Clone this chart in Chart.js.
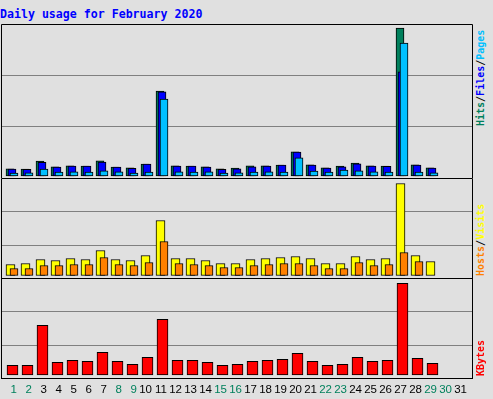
<!DOCTYPE html>
<html>
<head>
<meta charset="utf-8">
<title>Daily usage for February 2020</title>
<script src="https://cdn.jsdelivr.net/npm/chart.js@4.4.1/dist/chart.umd.min.js"></script>
<style>
  html, body { margin: 0; padding: 0; background: #e0e0e0; }
  #page { position: relative; width: 493px; height: 399px; overflow: hidden; background: #e0e0e0; }
  #page canvas { position: absolute; left: 1px; }
  #title { position: absolute; left: 0; top: 7px; color: #0000ff; font: bold 11.6px "DejaVu Sans Mono", monospace; white-space: nowrap; }
  .side { position: absolute; left: 476px; font: bold 10px/10px "DejaVu Sans Mono", monospace; white-space: nowrap; transform: rotate(-90deg); transform-origin: 0 0; color: #000; }
</style>
</head>
<body>
<div id="page">
  <div id="title">Daily usage for February 2020</div>
  <canvas id="hitsChart" width="472" height="154" style="top:24px"></canvas>
  <canvas id="visitsChart" width="472" height="101" style="top:178px"></canvas>
  <canvas id="kbytesChart" width="472" height="121" style="top:278px"></canvas>
  <div class="side" style="top:126px"><span style="color:#00805c">Hits</span>/<span style="color:#0000ff">Files</span>/<span style="color:#00c0ff">Pages</span></div>
  <div class="side" style="top:276px"><span style="color:#ff8000">Hosts</span>/<span style="color:#ffff00">Visits</span></div>
  <div class="side" style="top:376px; color:#ff0000">KBytes</div>
</div>
<script>
const days = [1, 2, 3, 4, 5, 6, 7, 8, 9, 10, 11, 12, 13, 14, 15, 16, 17, 18, 19, 20, 21, 22, 23, 24, 25, 26, 27, 28, 29, 30, 31];
const weekendDays = [1, 2, 8, 9, 15, 16, 22, 23, 29, 30];

const hits   = [143, 139, 298, 184, 203, 197, 301, 179, 162, 238, 1697, 204, 199, 181, 142, 158, 201, 203, 218, 482, 221, 163, 199, 259, 202, 197, 2958, 223, 161, 0, 0];
const files  = [137, 131, 272, 178, 198, 196, 279, 176, 152, 236, 1681, 199, 196, 177, 133, 141, 183, 198, 216, 477, 217, 158, 181, 242, 197, 195, 2085, 219, 157, 0, 0];
const pages  = [58, 61, 139, 79, 82, 78, 102, 81, 57, 79, 1538, 83, 77, 82, 59, 62, 79, 81, 78, 361, 99, 80, 118, 101, 82, 79, 2657, 80, 61, 0, 0];

const visits = [22, 24, 32, 30, 34, 32, 50, 32, 30, 40, 110, 34, 34, 30, 24, 24, 32, 34, 36, 38, 34, 24, 24, 38, 32, 34, 184, 40, 28, 0, 0];
const hosts  = [14, 14, 20, 20, 22, 22, 36, 22, 20, 26, 68, 24, 22, 20, 16, 16, 20, 22, 24, 24, 20, 14, 14, 26, 20, 22, 46, 28, 0, 0, 0];

const kbytes = [9684, 9712, 49658, 12731, 14690, 13745, 22682, 13702, 10688, 17734, 55716, 14653, 14721, 12684, 9731, 10702, 13668, 14739, 15682, 21744, 13681, 9695, 10742, 17663, 13729, 14708, 91682, 16735, 11694, 0, 0];

// value ranges of the three panels (a little below zero so bars sit above the frame)
const hitsRange = [-40, 3040];
const visitsRange = [-7, 195];
const kbytesRange = [-4000, 97000];

const DAY_PX = 15;

// black box round the plot area
const frame = {
  id: 'frame',
  afterDraw(chart, args, opts) {
    const ctx = chart.ctx;
    const a = chart.chartArea;
    const l = a.left + 0.5, r = a.right - 0.5, t = a.top + 0.5, b = a.bottom - 0.5;
    ctx.save();
    ctx.strokeStyle = '#000000';
    ctx.lineWidth = 1;
    ctx.beginPath();
    ctx.moveTo(l, a.bottom);
    ctx.lineTo(l, t);
    ctx.lineTo(r, t);
    ctx.lineTo(r, a.bottom);
    if (opts.bottom) {
      ctx.moveTo(l, b);
      ctx.lineTo(r, b);
    }
    ctx.stroke();
    ctx.restore();
  }
};

function bars(values, shift, width, color) {
  return {
    data: values.map((v, i) => ({ x: days[i] + shift / DAY_PX, y: v })),
    backgroundColor: color,
    borderColor: '#000000',
    borderWidth: 1,
    borderSkipped: false,
    barThickness: width,
    grouped: false
  };
}

function makeChart(id, datasets, range, showDays, frameBottom) {
  return new Chart(document.getElementById(id), {
    type: 'bar',
    data: { datasets: datasets },
    options: {
      responsive: false,
      animation: false,
      events: [],
      layout: { padding: 0 },
      plugins: {
        legend: { display: false },
        tooltip: { enabled: false },
        frame: { bottom: frameBottom }
      },
      scales: {
        x: {
          type: 'linear',
          offset: false,
          min: 0.4,
          max: 0.4 + 472 / DAY_PX,
          display: showDays,
          grid: { display: false },
          border: { display: false },
          afterBuildTicks: axis => { axis.ticks = days.map(d => ({ value: d })); },
          afterFit: axis => {
            axis.height = showDays ? 20 : 0;
            axis.paddingLeft = 0;
            axis.paddingRight = 0;
          },
          ticks: {
            autoSkip: false,
            maxRotation: 0,
            minRotation: 0,
            align: 'end',
            labelOffset: 7,
            padding: -4,
            font: { family: 'Liberation Sans', size: 11.5 },
            color: c => weekendDays.includes(c.tick.value) ? '#00805c' : '#000000'
          }
        },
        y: {
          min: range[0],
          max: range[1],
          grid: { color: '#808080', drawTicks: false },
          border: { display: false },
          ticks: { display: false },
          afterBuildTicks: axis => {
            const step = (range[1] - range[0]) / 3;
            axis.ticks = [1, 2].map(k => ({ value: range[0] + k * step }));
          },
          afterFit: axis => { axis.width = 0; }
        }
      }
    },
    plugins: [frame]
  });
}

// first dataset is drawn on top
makeChart('hitsChart', [
  bars(pages, 4, 8, '#00c0ff'),
  bars(files, 2, 8, '#0000ff'),
  bars(hits, 0, 8, '#00805c')
], hitsRange, false, false);

makeChart('visitsChart', [
  bars(hosts, 4, 8, '#ff8000'),
  bars(visits, 0.5, 9, '#ffff00')
], visitsRange, false, false);

makeChart('kbytesChart', [
  bars(kbytes, 2.5, 11, '#ff0000')
], kbytesRange, true, true);
</script>
</body>
</html>
